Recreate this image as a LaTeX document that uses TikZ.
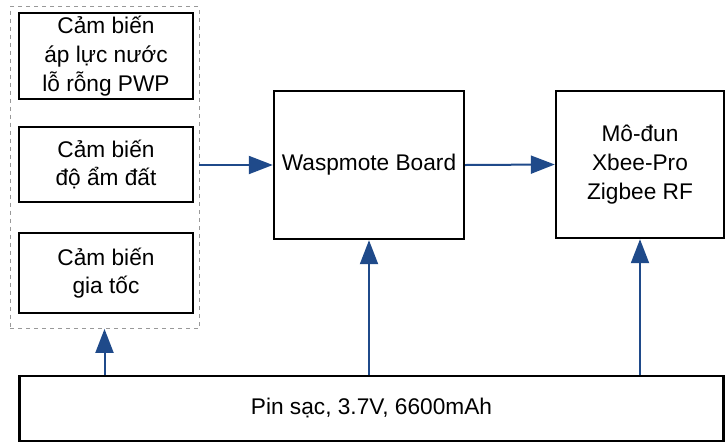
\documentclass[tikz,border=0pt]{standalone}
\usepackage{fontspec}
\setmainfont{Liberation Sans}
\usetikzlibrary{arrows.meta}
\definecolor{arrowblue}{RGB}{31,74,138}
\begin{document}
\begin{tikzpicture}[
        x=0.75pt, y=-0.75pt,
        block/.style={
          draw,
          line width=1.8pt,
          align=center,
          inner sep=0pt,
          font=\fontsize{17}{21.5}\selectfont
        },
        group/.style={
          draw=black!40,
          dashed,
          line width=0.6pt,
          inner sep=0pt
        },
        flow/.style={
          -{Triangle[length=18pt, width=13.5pt]},
          draw=arrowblue,
          fill=arrowblue,
          line width=1.5pt
        }
      ]
      \useasboundingbox (0,0) rectangle (726,444);
      \node[group, minimum width=189*0.75pt, minimum height=322*0.75pt] (sensors) at (104.5,167.5) {};
      \node[block, minimum width=174*0.75pt, minimum height=86*0.75pt] (pwp) at (106,56)
        {Cảm biến\\áp lực nước\\lỗ rỗng PWP};
      \node[block, minimum width=174*0.75pt, minimum height=75*0.75pt] (moisture) at (106,164.5)
        {Cảm biến\\độ ẩm đất};
      \node[block, minimum width=174*0.75pt, minimum height=80*0.75pt] (accel) at (106,273)
        {Cảm biến\\gia tốc};

      \node[block, minimum width=190*0.75pt, minimum height=148*0.75pt] (waspmote) at (369,165)
        {Waspmote Board};
      \node[block, minimum width=168*0.75pt, minimum height=147*0.75pt] (xbee) at (640,164.5)
        {Mô-đun\\Xbee-Pro\\Zigbee RF};

      \node[block, minimum width=704*0.75pt, minimum height=65*0.75pt] (battery) at (371.5,408.5)
        {Pin sạc, 3.7V, 6600mAh};

      \draw[flow] (sensors.east |- waspmote.west) -- (waspmote.west);
      \draw[flow] (waspmote.east) -- (xbee.west);
      \draw[flow] (battery.north -| sensors.south) -- (sensors.south);
      \draw[flow] (battery.north -| waspmote.south) -- (waspmote.south);
      \draw[flow] (battery.north -| xbee.south) -- (xbee.south);
    \end{tikzpicture}
\end{document}
